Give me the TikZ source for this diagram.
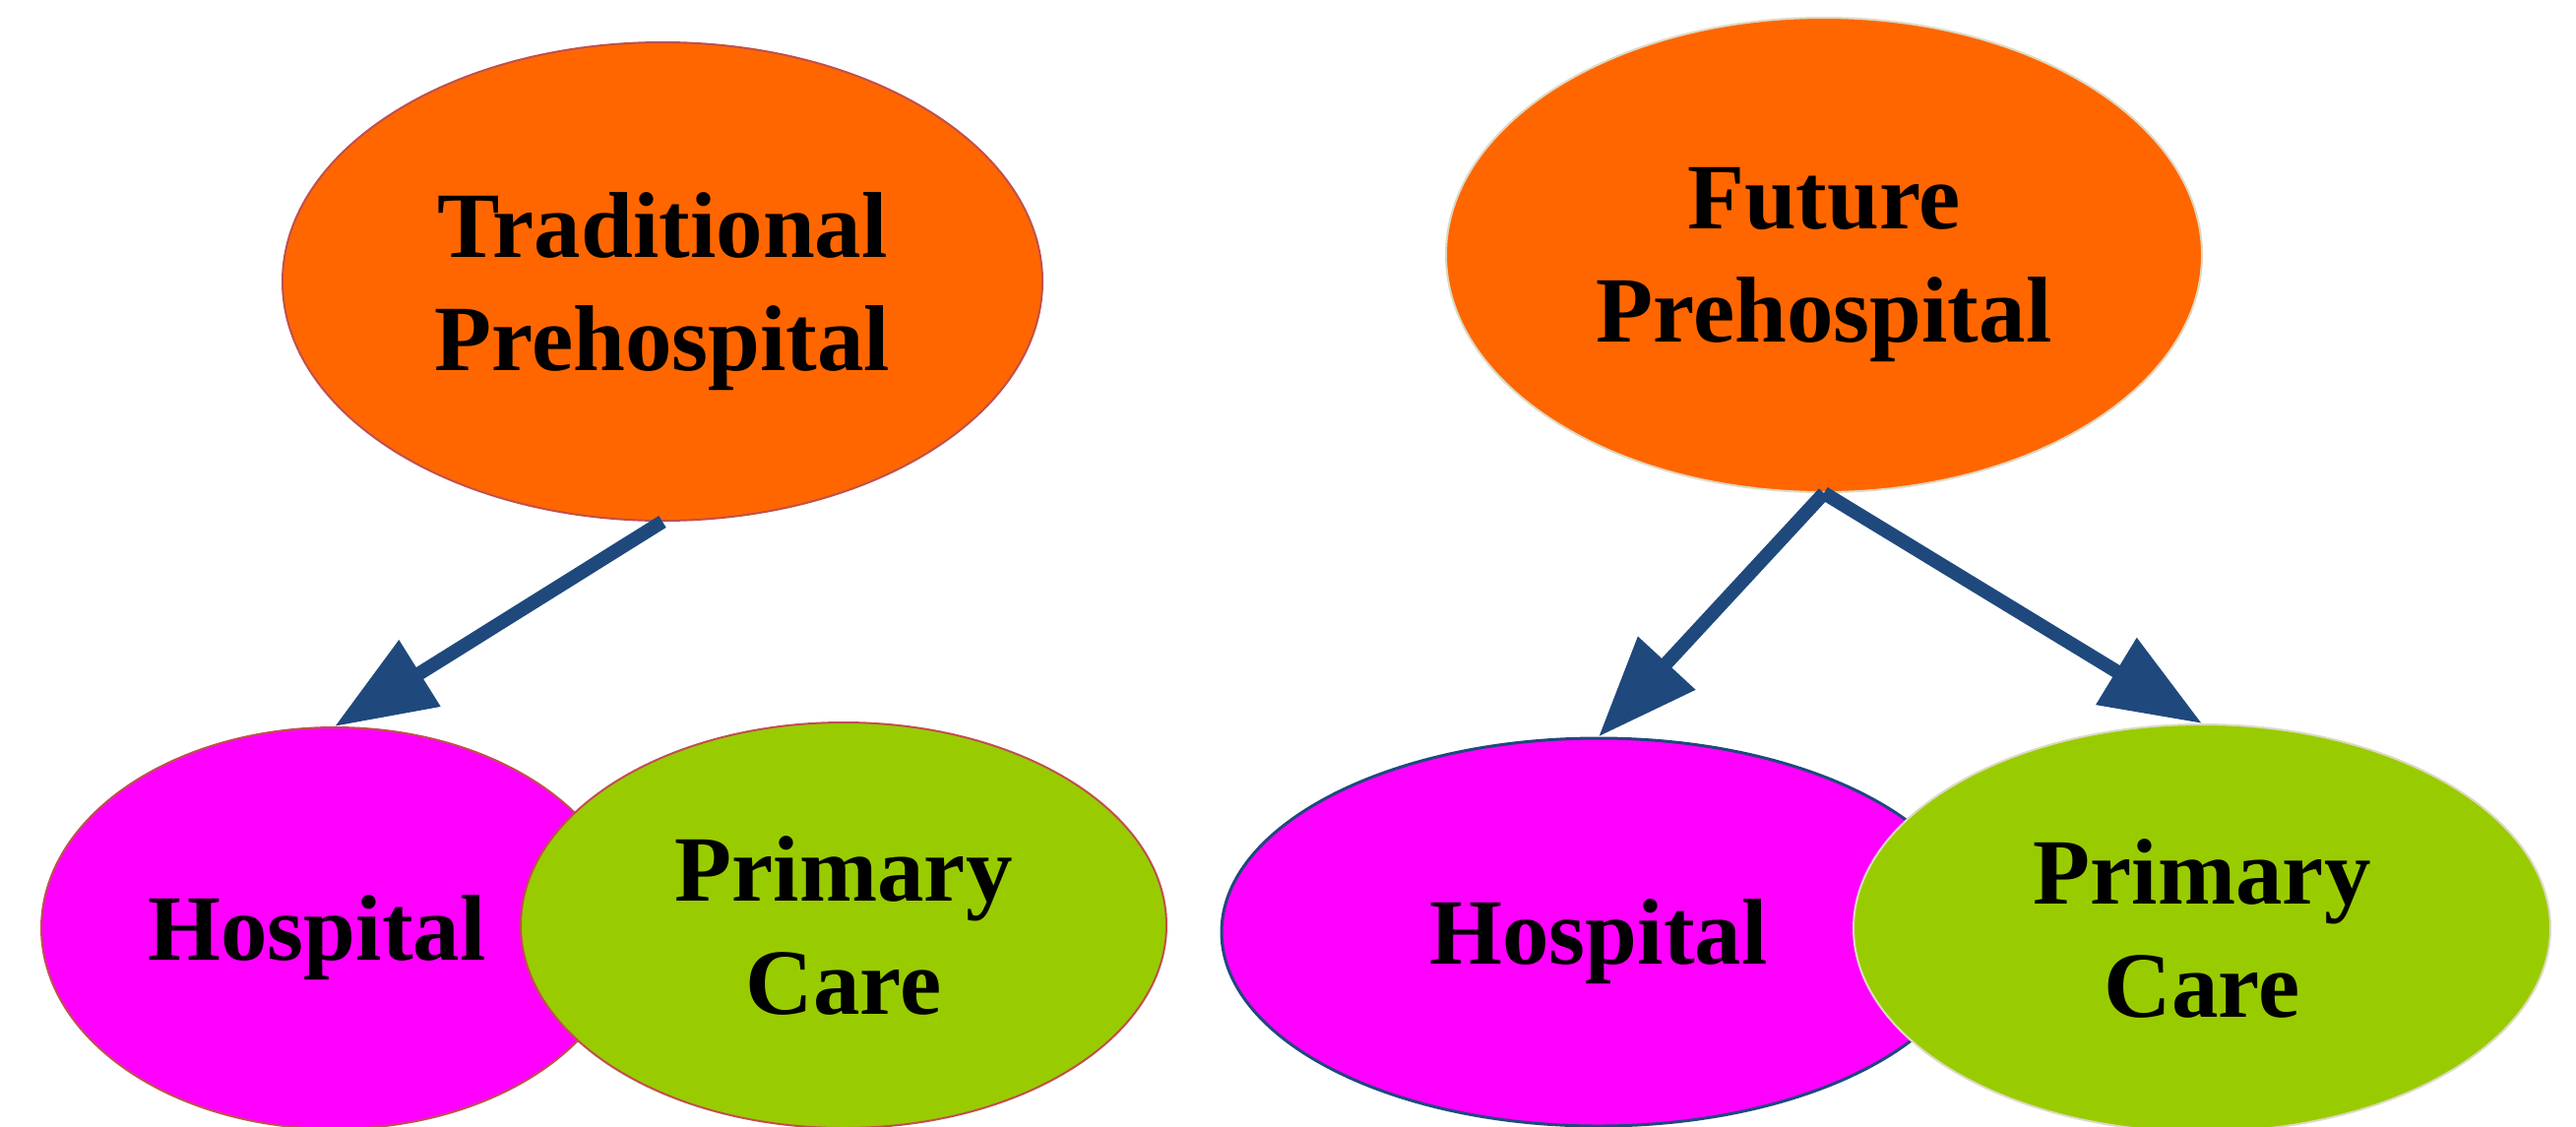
\documentclass[tikz,border=0pt]{standalone}
\usepackage{fontspec}
\setmainfont{Liberation Serif}
\usetikzlibrary{shapes.geometric,arrows.meta}
\definecolor{orng}{HTML}{FF6600}
\definecolor{mgnt}{HTML}{FF00FF}
\definecolor{grn}{HTML}{99CC00}
\definecolor{arr}{HTML}{1F497D}
\definecolor{redline}{HTML}{C0504D}
\definecolor{paleline}{HTML}{DDD9C3}
\tikzset{
  blob/.style={ellipse, inner sep=0pt, align=center, line width=2pt, text depth=0pt,
    font=\fontsize{95}{115}\selectfont\bfseries},
  flow/.style={draw=arr, line width=14pt, -{Triangle[length=102pt,width=76pt]}}
}
\begin{document}
\begin{tikzpicture}[x=1pt,y=-1pt]
\useasboundingbox (0,0) rectangle (2617,1144);
% left group
\node[blob, fill=orng, draw=redline, minimum width=772pt, minimum height=486pt] (trad) at (673,286) {Traditional\\Prehospital};
\node[blob, fill=mgnt, draw=redline, minimum width=596pt, minimum height=408pt] (hospA) at (340,943) {Hospital\kern36pt};
\node[blob, fill=grn, draw=redline, minimum width=656pt, minimum height=412pt] (primA) at (857,940) {Primary\\Care};
% right group
\node[blob, fill=orng, draw=paleline, minimum width=768pt, minimum height=482pt] (fut) at (1853,259) {Future\\Prehospital};
\node[blob, fill=mgnt, draw=arr, line width=3pt, minimum width=766pt, minimum height=394pt] (hospB) at (1624,947) {Hospital};
\node[blob, fill=grn, draw=paleline, minimum width=708pt, minimum height=414pt] (primB) at (2237,943) {Primary\\Care};
% connectors
\draw[flow] (trad.south) -- (hospA.north);
\draw[flow] (fut.south) -- (hospB.north);
\draw[flow] (fut.south) -- (primB.north);
\end{tikzpicture}
\end{document}
